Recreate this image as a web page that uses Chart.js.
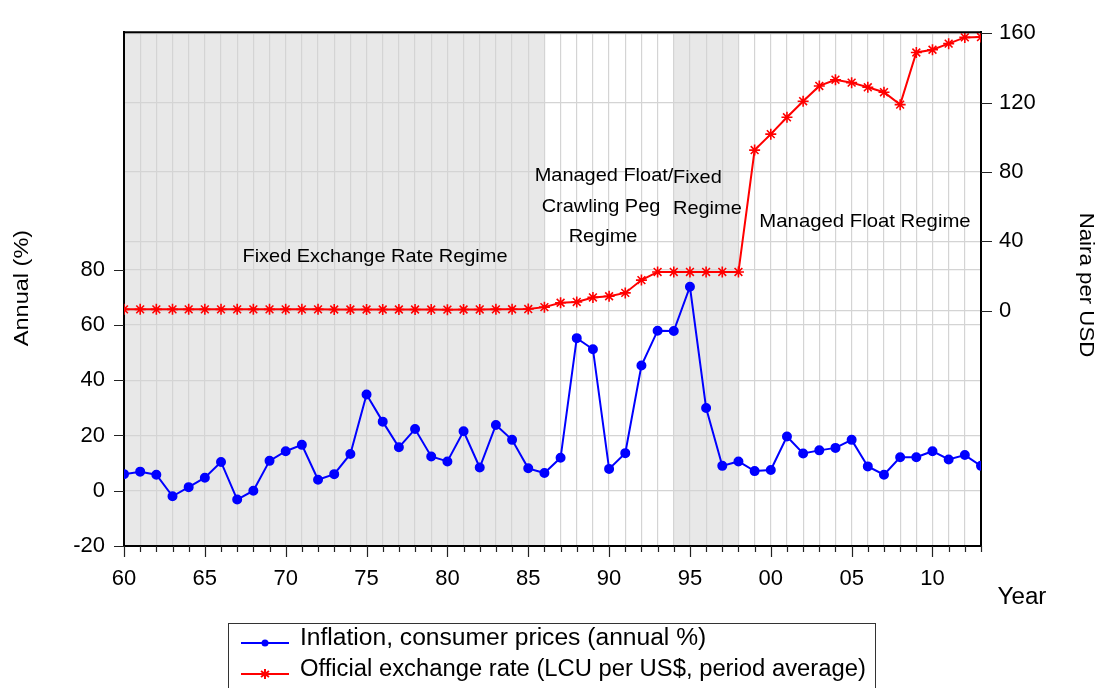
<!DOCTYPE html>
<html>
<head>
<meta charset="utf-8">
<script src="https://cdn.jsdelivr.net/npm/chart.js@4.4.1/dist/chart.umd.min.js"></script>
<style>
  body { margin: 0; background: #fff; }
  canvas { display: block; }
</style>
</head>
<body>
<canvas id="myChart" width="1099" height="688"></canvas>
<script>
// years on the x axis
const years = [1960, 1961, 1962, 1963, 1964, 1965, 1966, 1967, 1968, 1969,
    1970, 1971, 1972, 1973, 1974, 1975, 1976, 1977, 1978, 1979,
    1980, 1981, 1982, 1983, 1984, 1985, 1986, 1987, 1988, 1989,
    1990, 1991, 1992, 1993, 1994, 1995, 1996, 1997, 1998, 1999,
    2000, 2001, 2002, 2003, 2004, 2005, 2006, 2007, 2008, 2009,
    2010, 2011, 2012, 2013];

// Inflation, consumer prices (annual %) - left axis
const inflation = [6.0, 6.9, 5.8, -2.0, 1.3, 4.7, 10.4, -3.2, 0.0, 10.8,
    14.3, 16.6, 4.0, 6.0, 13.3, 34.8, 25.0, 15.7, 22.3, 12.4,
    10.6, 21.5, 8.4, 23.8, 18.4, 8.1, 6.4, 11.9, 55.2, 51.2,
    7.9, 13.6, 45.3, 57.9, 57.8, 73.8, 29.9, 9.0, 10.6, 7.1,
    7.5, 19.6, 13.5, 14.6, 15.5, 18.4, 8.8, 5.8, 12.1, 12.1,
    14.3, 11.3, 12.9, 9.0];

// Official exchange rate (naira per USD) - right axis
const exchangeRate = [0.71, 0.71, 0.71, 0.71, 0.71, 0.71, 0.71, 0.71, 0.71, 0.71,
    0.71, 0.71, 0.71, 0.66, 0.63, 0.62, 0.63, 0.64, 0.64, 0.60,
    0.55, 0.61, 0.67, 0.72, 0.77, 0.89, 2.0, 4.5, 5.0, 7.6,
    8.3, 10.2, 17.6, 22.3, 22.3, 22.3, 22.3, 22.3, 22.3, 92.6,
    101.8, 111.5, 120.8, 129.6, 133.2, 131.5, 128.8, 126.0, 118.8, 148.9,
    150.5, 154.0, 157.6, 157.8];

// tick labels
const xLabelYears = [1960, 1965, 1970, 1975, 1980, 1985, 1990, 1995, 2000, 2005, 2010];
const xLabelText = ['60', '65', '70', '75', '80', '85', '90', '95', '00', '05', '10'];
const leftTicks = [-20, 0, 20, 40, 60, 80];
const rightTicks = [0, 40, 80, 120, 160];

// shaded regime periods
const shadeFrom = [1960, 1994];
const shadeTo = [1986, 1998];

const FONT = '"Liberation Sans", Arial, sans-serif';

function drawText(ctx, txt, x, y, size, sx, align, rot) {
    ctx.save();
    ctx.translate(x, y);
    if (rot) ctx.rotate(rot);
    ctx.scale(sx, 1);
    ctx.font = size + 'px ' + FONT;
    ctx.textAlign = align || 'center';
    ctx.textBaseline = 'middle';
    ctx.fillStyle = '#000';
    ctx.fillText(txt, 0, 0);
    ctx.restore();
}

const decor = {
    id: 'decor',
    beforeDraw(chart) {
        const ctx = chart.ctx;
        const a = chart.chartArea;
        const x = chart.scales.x;
        ctx.save();
        ctx.fillStyle = '#e8e8e8';
        for (let i = 0; i < shadeFrom.length; i++) {
            const x1 = x.getPixelForValue(shadeFrom[i]);
            const x2 = x.getPixelForValue(shadeTo[i]);
            ctx.fillRect(x1, a.top, x2 - x1, a.bottom - a.top);
        }
        ctx.restore();
    },
    afterDraw(chart) {
        const ctx = chart.ctx;
        const a = chart.chartArea;
        const sx = chart.scales.x, yl = chart.scales.yL, yr = chart.scales.yR;
        ctx.save();
        ctx.strokeStyle = '#000';
        ctx.lineWidth = 2;
        ctx.beginPath();
        ctx.moveTo(a.left - 1, a.top);
        ctx.lineTo(a.right + 1, a.top);
        ctx.stroke();

        // tick marks
        ctx.lineWidth = 1.2;
        ctx.strokeStyle = '#222';
        ctx.beginPath();
        years.forEach(v => {
            const px = Math.round(sx.getPixelForValue(v)) + 0.5;
            const len = v % 5 === 0 ? 11 : 6;
            ctx.moveTo(px, a.bottom);
            ctx.lineTo(px, a.bottom + len);
        });
        leftTicks.forEach(v => {
            const py = Math.round(yl.getPixelForValue(v)) + 0.5;
            ctx.moveTo(a.left - 10, py);
            ctx.lineTo(a.left, py);
        });
        rightTicks.forEach(v => {
            const py = Math.round(yr.getPixelForValue(v)) + 0.5;
            ctx.moveTo(a.right, py);
            ctx.lineTo(a.right + 11, py);
        });
        ctx.stroke();
        ctx.restore();

        // axis titles
        drawText(ctx, 'Annual (%)', 22, 288, 21, 1.12, 'center', -Math.PI / 2);
        drawText(ctx, 'Naira per USD', 1086, 285, 21, 1.06, 'center', Math.PI / 2);
        drawText(ctx, 'Year', 1022, 598, 23, 1.05, 'center');

        // regime notes
        drawText(ctx, 'Fixed Exchange Rate Regime', 375, 257, 19, 1.05, 'center');
        drawText(ctx, 'Managed Float/', 604, 176, 19, 1.05, 'center');
        drawText(ctx, 'Crawling Peg', 601, 207, 19, 1.05, 'center');
        drawText(ctx, 'Regime', 603, 237, 19, 1.05, 'center');
        drawText(ctx, 'Fixed', 673, 178, 19, 1.05, 'left');
        drawText(ctx, 'Regime', 673, 209, 19, 1.05, 'left');
        drawText(ctx, 'Managed Float Regime', 865, 222, 19, 1.07, 'center');

        // legend
        ctx.save();
        ctx.strokeStyle = '#333';
        ctx.lineWidth = 1;
        ctx.strokeRect(228.5, 623.5, 647, 80);
        ctx.lineWidth = 2;
        ctx.strokeStyle = '#0000ff';
        ctx.beginPath();
        ctx.moveTo(241, 643);
        ctx.lineTo(289, 643);
        ctx.stroke();
        ctx.fillStyle = '#0000ff';
        ctx.beginPath();
        ctx.arc(265, 643, 3.5, 0, Math.PI * 2);
        ctx.fill();
        ctx.strokeStyle = '#ff0000';
        ctx.beginPath();
        ctx.moveTo(241, 674);
        ctx.lineTo(289, 674);
        const r = 5;
        ctx.moveTo(265, 674 - r); ctx.lineTo(265, 674 + r);
        ctx.moveTo(265 - r * 0.8, 674 - r * 0.6); ctx.lineTo(265 + r * 0.8, 674 + r * 0.6);
        ctx.moveTo(265 + r * 0.8, 674 - r * 0.6); ctx.lineTo(265 - r * 0.8, 674 + r * 0.6);
        ctx.stroke();
        ctx.restore();
        drawText(ctx, 'Inflation, consumer prices (annual %)', 300, 639, 23, 1.07, 'left');
        drawText(ctx, 'Official exchange rate (LCU per US$, period average)', 300, 670, 23, 1.035, 'left');
    }
};

const gridColor = '#d4d4d4';
const tickFont = { family: FONT, size: 22 };

new Chart(document.getElementById('myChart').getContext('2d'), {
    type: 'line',
    data: {
        datasets: [{
            label: 'Inflation, consumer prices (annual %)',
            data: years.map((y, i) => ({ x: y, y: inflation[i] })),
            yAxisID: 'yL',
            borderColor: '#0000ff',
            backgroundColor: '#0000ff',
            borderWidth: 2,
            pointRadius: 4,
            pointStyle: 'circle',
            tension: 0,
            fill: false
        }, {
            label: 'Official exchange rate (LCU per US$, period average)',
            data: years.map((y, i) => ({ x: y, y: exchangeRate[i] })),
            yAxisID: 'yR',
            borderColor: '#ff0000',
            backgroundColor: '#ff0000',
            borderWidth: 2,
            pointRadius: 5.5,
            pointBorderWidth: 1.6,
            pointStyle: 'star',
            tension: 0,
            fill: false
        }]
    },
    options: {
        responsive: false,
        animation: false,
        layout: { padding: { top: 31, left: 0, right: 0, bottom: 0 } },
        plugins: {
            legend: { display: false },
            tooltip: { enabled: false }
        },
        scales: {
            x: {
                type: 'linear',
                min: 1960,
                max: 2013,
                afterBuildTicks: s => { s.ticks = years.map(v => ({ value: v })); },
                afterFit: s => { s.height = 142; },
                ticks: {
                    autoSkip: false,
                    maxRotation: 0,
                    padding: 20,
                    color: '#000',
                    font: tickFont,
                    callback: v => {
                        const i = xLabelYears.indexOf(v);
                        return i >= 0 ? xLabelText[i] : '';
                    }
                },
                grid: { color: gridColor, lineWidth: 1.2, drawTicks: false },
                border: { color: '#000', width: 2 }
            },
            yL: {
                position: 'left',
                min: -20,
                max: 165.9,
                afterBuildTicks: s => { s.ticks = leftTicks.map(v => ({ value: v })); },
                afterFit: s => { s.width = 124; },
                ticks: { padding: 19, color: '#000', font: tickFont },
                grid: { color: gridColor, lineWidth: 1.2, drawTicks: false },
                border: { color: '#000', width: 2 }
            },
            yR: {
                position: 'right',
                min: -135.8,
                max: 160.6,
                afterBuildTicks: s => { s.ticks = rightTicks.map(v => ({ value: v })); },
                afterFit: s => { s.width = 118; },
                ticks: { padding: 18, color: '#000', font: tickFont },
                grid: { color: gridColor, lineWidth: 1.2, drawTicks: false },
                border: { color: '#000', width: 2 }
            }
        }
    },
    plugins: [decor]
});
</script>
</body>
</html>
